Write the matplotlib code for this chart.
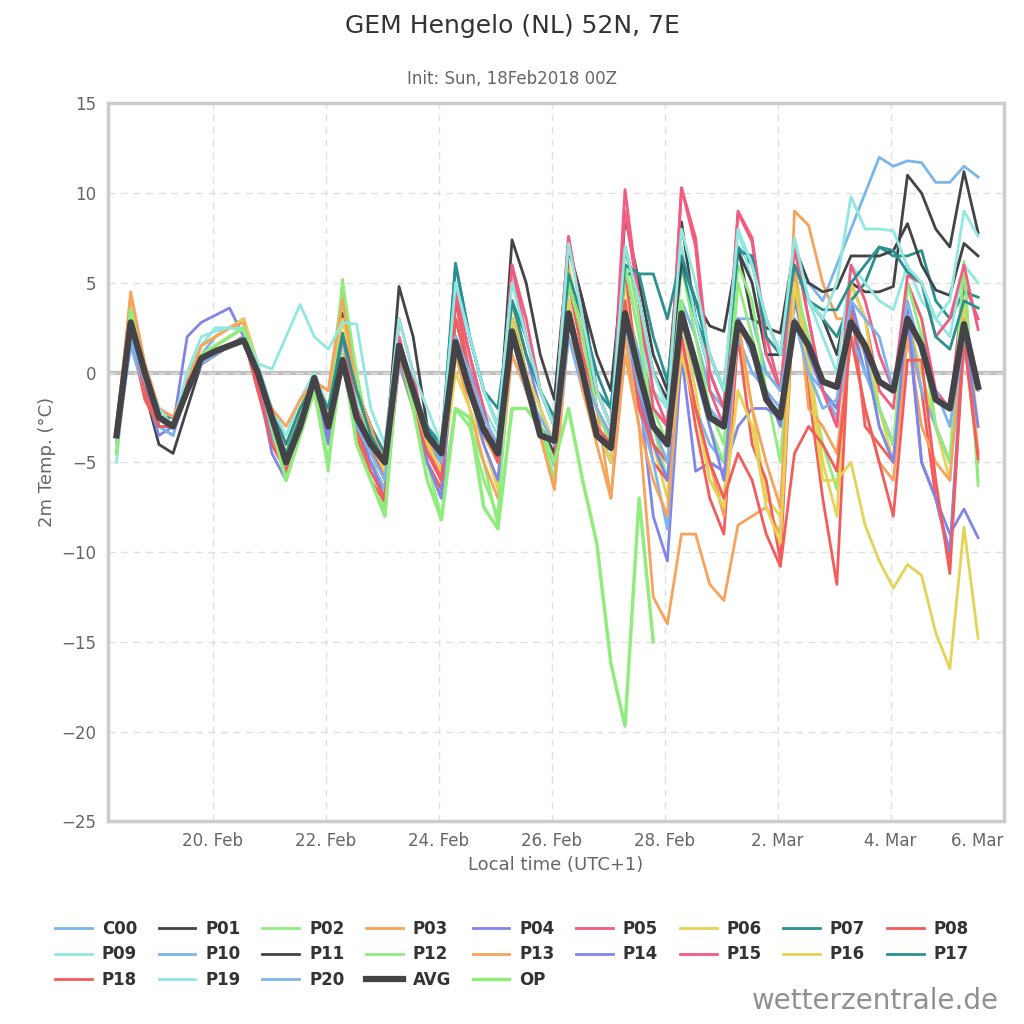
import numpy as np
import matplotlib.pyplot as plt
from matplotlib.lines import Line2D

# время: шаг 6 часов, дни относительно 20 Feb 00:00
t0 = -1.70
dt = 0.25

names = ['C00', 'P01', 'P02', 'P03', 'P04', 'P05', 'P06', 'P07', 'P08', 'P09',
         'P10', 'P11', 'P12', 'P13', 'P14', 'P15', 'P16', 'P17', 'P18', 'P19', 'P20']

C00 = [-4, 2, 0, -3, -3.5, -0.5, 1, 2, 2.5, 3, 0.5, -3, -5.5, -3, -1, -3, 1, -2, -4, -6,
       1, -1, -4, -5, 2, -1, -3, -4, 3, 0, -3, -5, 3, 0, -3, -4, 4, 1, -2, -3, 4, 2, -1, -2,
       3, 3, 0, -1, 5, 5, 4, 6, 8, 10, 12, 11.5, 11.8, 11.7, 10.6, 10.6, 11.5, 10.9]
P01 = [-3.5, 2, -1, -4, -4.5, -2, 0.5, 1, 1.5, 2, 0, -2.5, -5, -3, 0, -3.3, 3.3, -1, -3, -5,
       4.8, 2, -3, -4.5, 1.5, 0, -3, -4, 7.4, 5, 1, -1.5, 7, 4, -1, -3, 8.7, 5, 1, -1, 8.4, 3, 0, -2,
       7, 3, 2.5, 2.2, 7, 4, 3, 1, 5, 4.5, 4.5, 4.8, 11, 10, 8, 7, 11.2, 7.8]
P02 = [-4, 3.5, 0, -2, -3, -1, 1, 1.5, 2, 2.5, 0, -3, -6, -3, -1, -5.5, 5, 0, -4, -8,
       1, -2, -5, -7, -2, -3, -5, -8.5, -2, -2, -3, -4, 5, 2, -1, -3, 7, 3, -2, -4, 6, 2, -2, -4,
       6, 4, -1, -5, 5, 0, -4, -6.5, 3, 1, -3, -5, 5, 3, -3, -5, 6, -6]
P03 = [-3.5, 4.5, 0.5, -2, -2.5, -0.5, 1.5, 2, 2.5, 3, 0, -2, -4, -2, -0.5, -1, 4.5, -1, -3, -5,
       2, -1, -4, -6, 1, -2, -5, -7, 1, -1, -3.5, -6.5, 2, 0, -2, -7, 1, -3, -12.5, -14, -9, -9, -11.8, -12.7,
       -8.5, -8, -7.5, -9, 9, 8.2, 5, 3, 3, 1, -2, -4, 2, -1, -3, -5, 2, -5]
P04 = [-3, 1.5, -1, -3.5, -3, 2, 2.8, 3.2, 3.6, 2, -0.5, -4.5, -6, -3.5, -1, -4, 1, -3, -4.5, -5.5,
       1, -2, -5, -7, 3, 0, -3, -4.5, 4, 1, -2, -4, 5, 2, -2, -4, 4, -1, -8, -10.5, 1, -5.5, -5, -5.5,
       -3, -2, -2, -2.5, 3, 1, -1, -2, 3, 0, -2, -4, 3, -5, -7, -9, -7.6, -9.2]
P05 = [-3.5, 3, 0, -2, -2.5, -1, 0.5, 1, 1.5, 2, -0.5, -3, -5, -3, -0.5, -2.5, 1, -3, -5, -6.5,
       3, 0, -4, -5.5, 4, 1, -3, -5, 6, 3, -1, -3, 7.5, 3, -2, -3.5, 10.2, 4, -2, -3, 10.3, 7, -1, -3,
       9, 7.5, 2, -1, 7, 3, -1, -3, 5, 3, -1, -2, 5, 3, -1, -2, 5, 3]
P06 = [-3, 3, -0.5, -3, -3, 0, 1.5, 2, 2.5, 3, 0.5, -3, -4.5, -2, 0, -2, 3, -1, -4, -6,
       1.5, -1, -4, -6, 0, -2, -4, -6.5, 4, 0, -3, -5, 6, 2, -2, -4, 5, 0, -4, -7, 3, -1, -6, -7,
       2, -2, -7, -8, 6, 1, -5, -8, 5, 3, -2, -5, 3, 0, -3, -6, 4, -3]
P07 = [-3.5, 2.5, -0.5, -2.5, -2.5, -1, 0.5, 1, 1.5, 2, 0, -2, -4, -2, -0.5, -2, 2.2, -1, -3, -4.5,
       1, -1, -3, -4, 6.1, 2, -1, -2, 4, 2, -1, -2.5, 5, 2, -1, -2, 5.5, 5.5, 2, -0.5, 6, 3, 1, -1,
       7, 6, 3, 1, 6, 4, 3, 2, 4, 5, 7, 6.5, 6.5, 6.8, 4, 3, 4.5, 4.2]
P08 = [-3.5, 2, -1.5, -3, -3, -1, 0.5, 1, 1.5, 2, -1, -3.5, -5.5, -3, -1, -3.5, 0.5, -3.5, -6, -7.2,
       0.5, -2, -5, -6.5, 4, 0, -3, -5, 3, 0, -3, -5, 5, 1, -2, -4, 6, -1, -5, -6, 2, -3, -7, -9,
       2, -4, -6, -10.5, 5, -1, -7, -11.8, 4, -3, -4, -5, 3, -1, -7, -10.3, 2, -4.5]
P09 = [-5, 3.5, 0, -2.5, -3, 0, 1.5, 2.5, 2.5, 2.5, 0.5, -2, -3.5, -1.5, 0, -2, 1.5, -1.5, -3.5, -5,
       2, -1, -3, -4.5, 5, 1, -2, -3.5, 5.5, 2, -1, -3, 7.5, 3, -1, -3, 6, 2, -1, -2, 7, 3, 0, -2,
       8, 5, 1, -1, 7.5, 4, 2, 0, 6, 5, 4, 3.5, 6, 4, 3, 2, 6, 5]
P10 = [-4, 1.5, -1, -3, -3.5, -1, 0.5, 1, 1.5, 2, -0.5, -3.5, -5, -3, -1, -3, 0.5, -3, -5, -6.5,
       0.5, -2, -4.5, -6, 3, 0, -3, -5, 2, -1, -3, -5.2, 2, -1, -3, -5, 3, -2, -5, -8.7, 2, -2, -4, -5,
       2, 0, -1, -2, 3, 0, -1, -2.5, 2, 0, -2, -4, 3, -1, -3, -5, 1, -1]
P11 = [-3.5, 2.5, -0.5, -3, -3, -1, 0.5, 1, 1.5, 2, 0, -2.5, -5, -3, -0.5, -3, 1, -2, -4, -5,
       1, -1, -3.5, -5, 2, 0, -3, -4.5, 3, 0, -3, -4.5, 6.9, 4, 1, -1, 7, 4, 0, -1.5, 6.3, 4, 2.6, 2.3,
       6.8, 5, 1, 1, 7, 5, 4.5, 4.7, 6.5, 6.5, 6.5, 6.8, 8.3, 6, 4.6, 4.3, 7.2, 6.5]
P12 = [-4, 3, 0, -2.5, -3, -1, 1, 1.5, 2, 2.5, 0, -3, -5.5, -3, -1, -3, 5.2, -1, -4, -6,
       1, -2, -5, -8.1, -2, -3, -6, -8, 3, 0, -3, -6, 5, 2, -2, -4, 6, 2, -3, -6, 4, 0, -3, -5,
       5, 2, -1, -3, 5, 2, -1, -2, 4, 1, -2, -4, 5, 2, -3, -5, 6.2, -6.3]
P13 = [-3, 4.2, 0.5, -2, -2.5, -0.5, 1.5, 2, 2.5, 2.8, -0.5, -2, -3, -1.5, -0.5, -1, 4, -1, -3, -5.5,
       1, -1, -3.5, -6, 2, -1, -3.5, -5, 3, -1, -3.5, -6.5, 4, -1, -4, -7, 2, -3, -6, -8, 2, -2, -5, -8,
       3, -2, -5, -7.5, 6, -2, -3, -4.5, 2, -2, -5, -6, 2, -3, -5, -6, 3, -4.4]
P14 = [-3.5, 2, -0.5, -3, -3, -1, 0.5, 1, 1.5, 2, -0.5, -4, -5.5, -3, -1, -3.5, 1, -3, -5, -7,
       1, -2, -5, -7, 2, -1, -4, -6, 3, 0, -3, -5, 4, 0, -3, -5, 3, -1, -4, -6, 3, 0, -3, -6,
       3, 1, -1, -3, 4, 1, -1, -2, 4, 1, -3, -5, 3.5, -5, -7, -10, 2.5, -3]
P15 = [-3.5, 3, 0, -2.5, -3, -1, 0.5, 1.2, 1.5, 2, -0.5, -3, -5, -3, -0.5, -3, 2, -2, -4, -6,
       2, -1, -4, -6, 4.5, 1, -2, -5, 6, 2, -1, -3, 7.6, 3, -1, -3, 9, 4, -1, -3, 10.3, 7.5, 0, -2,
       8.9, 7.3, 1, -1, 7, 3, -1, -3, 6, 4, 1, -1, 5.4, 5, 2, 3, 6, 2.4]
P16 = [-3.5, 2.5, 0, -2.5, -3, -1, 1, 1.5, 2, 2.5, 0, -2.5, -5, -2.5, -0.5, -2.5, 1, -2.5, -4, -5.5,
       1, -1.5, -4, -5.5, 1, -1, -3, -5, 3, 0, -2, -4, 4, 0, -3, -5, 4, 0, -3, -5, 1, -2, -6, -7.5,
       -1, -3, -7.5, -9.5, 5, 0, -6, -6, -5, -8.5, -10.5, -12, -10.7, -11.3, -14.5, -16.5, -8.6, -14.8]
P17 = [-3.5, 2.5, -0.5, -3, -3, -1, 0.5, 1, 1.5, 1.8, 0, -2.5, -4.5, -2.5, -0.5, -2, 2, -1, -3.5, -5,
       1.5, -1, -3, -4.5, 6, 2, -1, -3, 4, 1, -1, -3, 5.5, 3, 0, -2, 6, 5.5, 5.5, 3, 6.5, 4, 1, -1,
       6.8, 6.5, 2, 1, 6, 4, 3.5, 3.5, 5, 6, 7, 6.8, 5.6, 5, 2, 1.3, 4, 3.6]
P18 = [-4, 2.5, -1, -3, -3, -0.5, 0.5, 1, 1.5, 2, -1, -4, -5.5, -3, -1, -3, 1, -3, -5.5, -7,
       1, -2, -4.5, -6, 3, 0, -3, -5, 2, -1, -3, -5, 3, 0, -3, -4, 4, -2, -4, -5, 2, -2, -5, -7,
       -4.5, -6, -9, -10.8, -4.5, -3, -4, -5.5, 2, -2, -5, -8, 0.7, 0.7, -6, -11.2, 2, -4.8]
P19 = [-4, 3, 0, -2, -3, 0, 2, 2.3, 2.5, 2.3, 0.5, 0.2, 2, 3.8, 2, 1.3, 2.8, 2.7, -2, -4,
       3, 0, -2, -4, 5, 2, -1, -3, 5, 2, -1, -3, 7.2, 3, -1, -3, 7, 4, 0, -2, 8, 5, 1, -1,
       8, 6, 3, 1, 7.5, 4, 3, 5, 9.8, 8, 8, 7.9, 5.9, 5, 3, 4, 9, 7.6]
P20 = [-4.5, 2, -0.5, -2.5, -3, -1, 0.5, 1, 1.5, 2, 0, -3, -5, -3, -0.5, -3, 0.5, -3, -4.5, -6,
       1.5, -1, -3.5, -5, 2, 0, -2.5, -4, 2, -1, -2.5, -4, 3, 0, -2, -3.5, 3, -1, -3, -5, 3, 0, -2, -3,
       3, 1, 0, -1, 3, 0, -2, -1.5, 4, 3, 2, -1, 4, 1, -1, -3, 2, -0.5]
AVG = [-3.5, 2.8, 0, -2.5, -3, -1, 0.8, 1.2, 1.5, 1.8, 0, -2.5, -5, -3, -0.3, -3, 0.7, -2.5, -4, -5,
       1.5, -1, -3.5, -4.5, 1.7, -1, -3.2, -4.5, 2.3, -0.5, -3.5, -3.8, 3.3, 0, -3.5, -4.2, 3.3, 0, -3, -4,
       3.3, 0.5, -2.5, -3, 2.8, 1.5, -1.5, -2.5, 2.8, 1.5, -0.5, -0.8, 2.8, 1.5, -0.5, -1, 3.0, 1.5, -1.5, -2,
       2.7, -0.8]
OP = [-4.5, 3.5, 0, -2.5, -3, -1, 1, 1.5, 2, 2.5, 0, -3, -6, -3.5, -1, -5, 1, -4, -6, -8,
      1.5, -2, -6, -8.2, -2, -2.5, -7.5, -8.7, -2, -2, -3, -5, -2, -6, -9.5, -16.2, -19.7, -7, -15]

members = [C00, P01, P02, P03, P04, P05, P06, P07, P08, P09,
           P10, P11, P12, P13, P14, P15, P16, P17, P18, P19, P20]

tick_pos = [0, 2, 4, 6, 8, 10, 12, 14]
tick_lab = ['20. Feb', '22. Feb', '24. Feb', '26. Feb', '28. Feb', '2. Mar', '4. Mar', '6. Mar']

cols = ['#7cb5ec', '#434348', '#90ed7d', '#f7a35c', '#8085e9',
        '#f15c80', '#e4d354', '#2b908f', '#f45b5b', '#91e8e1']

fig = plt.figure(figsize=(10.24, 10.24), dpi=100)
ax = fig.add_axes([0.105, 0.198, 0.875, 0.701])

handles = []
for k, vals in enumerate(members):
    t = t0 + dt * np.arange(len(vals))
    h, = ax.plot(t, vals, color=cols[k % 10], lw=2, label=names[k])
    handles.append(h)
t = t0 + dt * np.arange(len(AVG))
h, = ax.plot(t, AVG, color='#434348', lw=4.5, label='AVG', zorder=5)
handles.append(h)
t = t0 + dt * np.arange(len(OP))
h, = ax.plot(t, OP, color='#90ed7d', lw=2.5, label='OP')
handles.append(h)

ax.axhline(0, color='#c0c0c0', lw=3, zorder=0)
ax.set_xlim(-1.86, 13.98)
ax.set_ylim(-25, 15)
ax.set_yticks(range(-25, 16, 5))
ax.set_xticks(tick_pos)
ax.set_xticklabels(tick_lab)
ax.get_xticklabels()[-1].set_ha('right')
ax.grid(True, color='#e0e0e0', ls=(0, (5, 4)), lw=1)
ax.set_axisbelow(True)
ax.tick_params(colors='#666666', labelsize=12, length=0, pad=8)
for s in ax.spines.values():
    s.set_color('#cccccc')
    s.set_linewidth(2.5)
ax.set_xlabel('Local time (UTC+1)', fontsize=13, color='#666666')
ax.set_ylabel('2m Temp. (°C)', fontsize=13, color='#666666')

fig.text(0.5, 0.975, 'GEM Hengelo (NL) 52N, 7E', ha='center', va='center', fontsize=18, color='#333333')
fig.text(0.5, 0.923, 'Init: Sun, 18Feb2018 00Z', ha='center', va='center', fontsize=12, color='#666666')
fig.text(0.975, 0.022, 'wetterzentrale.de', ha='right', va='center', fontsize=20, color='#909090')

# порядок легенды по строкам
labels = names + ['AVG', 'OP']
order = []
for c in range(9):
    for r in range(3):
        if r * 9 + c < len(labels):
            order.append(r * 9 + c)
leg = fig.legend([handles[i] for i in order], [labels[i] for i in order],
                 ncol=9, loc='center', bbox_to_anchor=(0.5, 0.068), frameon=False,
                 prop={'weight': 'bold', 'size': 12}, handlelength=2.2,
                 columnspacing=1.3, handletextpad=0.6, labelspacing=0.45)
for txt in leg.get_texts():
    txt.set_color('#333333')

fig.savefig('out.png', dpi=100)
